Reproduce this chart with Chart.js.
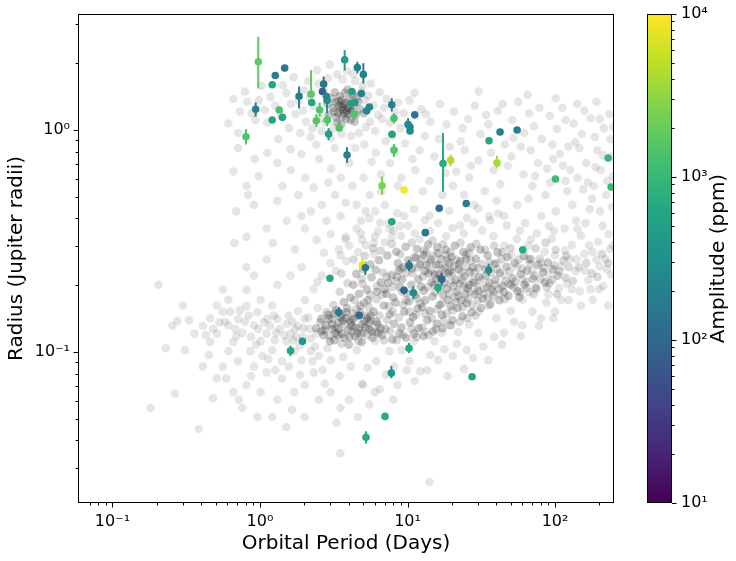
<!DOCTYPE html>
<html>
<head>
<meta charset="utf-8">
<script src="https://cdn.jsdelivr.net/npm/chart.js@4.4.0/dist/chart.umd.min.js"></script>
<style>
  html, body { margin: 0; padding: 0; background: #fff; }
  #wrap { position: relative; width: 736px; height: 561px; }
  canvas { position: absolute; left: 0; top: 0; }
</style>
</head>
<body>
<div id="wrap">
  <canvas id="plot" width="736" height="561"></canvas>
  <canvas id="cbar" width="736" height="561"></canvas>
</div>
<script>
// Planets with a measured amplitude (coloured points)
const planetPeriod = [0.974, 1.47, 1.27, 1.21, 0.935, 0.804, 1.35, 1.21, 1.42, 1.84,
  2.22, 2.24, 2.65, 2.70, 2.54, 2.41, 2.86, 2.85, 2.82, 2.92,
  3.45, 3.75, 4.57, 5.02, 4.20, 4.86, 4.16, 4.39, 4.36, 5.51,
  5.29, 3.89, 7.82, 8.10, 11.2, 10.08, 10.4, 10.4, 7.85, 8.10,
  6.72, 9.47, 17.4, 19.6, 16.4, 25.0, 13.2, 7.83, 35.7, 42.4,
  55.3, 40.4, 100.6, 229, 240, 60.4, 4.94, 5.18, 2.98, 10.24,
  17.06, 9.47, 10.95, 16.1, 35.5, 3.42, 4.71, 1.94, 1.61, 10.24,
  7.77, 27.4, 7.04, 5.23];
const planetRadius = [2.03, 1.90, 1.76, 1.60, 1.24, 0.933, 1.23, 1.11, 1.14, 1.42,
  1.45, 1.33, 1.49, 1.61, 1.23, 1.10, 1.11, 1.36, 1.42, 0.959,
  1.02, 2.07, 1.91, 1.78, 1.49, 1.46, 1.32, 1.33, 1.18, 1.27,
  1.22, 0.772, 1.30, 1.13, 1.17, 1.06, 1.03, 0.99, 0.957, 0.813,
  0.561, 0.537, 0.706, 0.731, 0.444, 0.467, 0.345, 0.386, 0.894, 0.979,
  1.00, 0.711, 0.602, 0.748, 0.554, 0.289, 0.2465, 0.2397, 0.2148, 0.245,
  0.213, 0.1897, 0.185, 0.195, 0.234, 0.151, 0.1463, 0.1117, 0.1014, 0.104,
  0.0804, 0.0774, 0.0513, 0.0413];
const planetAmp = [1800, 150, 180, 600, 180, 1500, 1300, 600, 600, 180,
  1800, 600, 80, 150, 1500, 1500, 1500, 280, 250, 500,
  1500, 450, 200, 200, 450, 200, 450, 450, 1500, 220,
  220, 200, 200, 1300, 150, 250, 250, 250, 550, 1500,
  2500, 9000, 700, 4500, 120, 180, 150, 600, 600, 200,
  200, 4000, 1100, 1000, 1000, 700, 8000, 150, 600, 150,
  100, 100, 250, 600, 300, 180, 110, 350, 600, 600,
  350, 600, 700, 700];
const radiusLow = [1.54, null, null, 1.56, 1.15, 0.86, null, null, null, 1.25,
  1.41, null, null, 1.51, 1.15, 1.03, 1.04, 1.19, null, 0.90,
  null, 1.85, 1.80, 1.62, null, null, null, null, null, null,
  null, 0.713, 1.21, 1.07, null, 1.00, null, null, null, 0.758,
  0.512, null, 0.527, 0.686, null, null, null, null, null, null,
  null, 0.677, null, null, null, null, 0.229, 0.222, null, 0.232,
  0.200, null, 0.173, 0.184, 0.221, 0.144, null, null, 0.096, 0.099,
  0.0762, null, null, 0.0387];
const radiusHigh = [2.63, null, null, 1.65, 1.33, 1.01, null, null, null, 1.57,
  1.86, null, null, 1.74, 1.33, 1.18, 1.18, 1.47, null, 1.02,
  null, 2.29, 2.03, 2.00, null, null, null, null, null, null,
  null, 0.836, 1.39, 1.19, null, 1.13, null, null, null, 0.865,
  0.617, null, 0.969, 0.776, null, null, null, null, null, null,
  null, 0.766, null, null, null, null, 0.265, 0.255, null, 0.260,
  0.227, null, 0.198, 0.204, 0.250, 0.159, null, null, 0.107, 0.110,
  0.0866, null, null, 0.0440];

// Background catalogue (grey points), [period, radius]
// crowded cores
const coreSubNeptune = [[9.2,0.213],[10.7,0.238],[12.3,0.197],[13.9,0.226],[15.6,0.248],[17.8,0.205],[19.4,0.231],[21.7,0.187],[24.3,0.219],[11.4,0.266],
  [8.6,0.251],[14.8,0.178],[16.9,0.262],[20.6,0.244],[23.1,0.171],[9.9,0.184],[12.9,0.274],[18.5,0.193],[22.8,0.256],[26.4,0.229],
  [7.8,0.222],[8.9,0.196],[10.2,0.169],[11.8,0.213],[13.4,0.247],[15.1,0.201],[16.3,0.224],[17.4,0.181],[19.9,0.268],[21.2,0.212],
  [25.5,0.194],[27.9,0.241],[30.6,0.218],[33.8,0.236],[29.1,0.263],[35.7,0.205],[38.9,0.249],[42.3,0.227],[46.8,0.242],[51.4,0.215],
  [7.2,0.183],[6.6,0.206],[6.1,0.234],[5.7,0.217],[5.3,0.191],[6.9,0.162],[7.6,0.148],[8.3,0.167],[9.5,0.152],[10.9,0.144],
  [12.6,0.159],[14.2,0.153],[16.5,0.163],[18.8,0.172],[21.9,0.158],[25.1,0.166],[28.7,0.182],[32.4,0.174],[37.2,0.191],[44.1,0.198],
  [5.9,0.152],[5.1,0.138],[4.6,0.145],[4.2,0.131],[3.8,0.142],[3.4,0.136],[3.1,0.127],[3.6,0.121],[4.4,0.118],[5.5,0.127],
  [6.3,0.133],[7.1,0.127],[8.1,0.134],[9.1,0.129],[10.4,0.136],[11.9,0.128],[13.6,0.139],[15.8,0.134],[2.8,0.132],[2.6,0.141],
  [3.3,0.154],[3.9,0.158],[4.8,0.162],[4.1,0.176],[3.7,0.168],[2.9,0.147],[2.4,0.128],[2.7,0.119],[3.2,0.113],[4.0,0.108],
  [4.9,0.111],[5.8,0.116],[6.7,0.119],[7.9,0.114],[8.8,0.121],[9.8,0.116],[11.1,0.121],[12.8,0.118],[14.9,0.124],[17.3,0.128],
  [20.1,0.139],[23.6,0.145],[27.2,0.151],[31.5,0.158],[36.4,0.164],[41.9,0.171],[48.3,0.179],[55.6,0.188],[62.1,0.201],[58.4,0.224],
  [53.2,0.251],[47.5,0.268],[40.8,0.281],[34.9,0.272],[31.2,0.289],[26.8,0.296],[23.9,0.283],[20.9,0.301],[18.2,0.289],[15.9,0.296],
  [13.8,0.305],[11.6,0.291],[9.7,0.298],[8.4,0.283],[7.3,0.272],[6.4,0.259],[5.6,0.248],[5.0,0.237],[4.5,0.225],[4.3,0.201],
  [4.7,0.183],[5.4,0.171],[6.2,0.187],[7.4,0.205],[8.7,0.232],[10.1,0.259],[12.1,0.248],[14.4,0.261],[16.1,0.279],[19.1,0.252],
  [22.3,0.236],[24.9,0.262],[28.1,0.205],[30.2,0.188],[34.1,0.221],[39.5,0.212],[45.2,0.186],[50.1,0.201],[57.3,0.176],[64.6,0.232],
  [70.8,0.214],[76.4,0.247],[68.2,0.262],[61.5,0.271],[82.9,0.229],[89.3,0.253],[96.7,0.236],[74.1,0.195],[85.6,0.206],[104.2,0.221],
  [11.3,0.181],[12.9,0.189],[14.6,0.207],[16.7,0.214],[18.9,0.226],[10.6,0.201],[9.4,0.241],[13.1,0.232],[15.3,0.224],[17.9,0.241],
  [20.4,0.198],[22.6,0.203],[8.0,0.176],[7.0,0.192],[19.6,0.161],[17.1,0.147],[13.2,0.171],[11.7,0.157],[24.6,0.182],[26.1,0.201]];
const lowerLobe = [[2.74,0.126],[3.08,0.133],[3.36,0.119],[3.63,0.138],[3.97,0.126],[4.29,0.141],[4.58,0.122],[4.92,0.133],[5.34,0.142],[5.74,0.124],
  [6.14,0.137],[6.56,0.128],[2.93,0.141],[3.19,0.149],[3.52,0.144],[3.86,0.151],[4.14,0.136],[4.43,0.129],[4.77,0.151],[5.16,0.129],
  [5.52,0.135],[2.62,0.124],[3.44,0.127],[3.73,0.116],[4.05,0.117],[4.85,0.121],[5.62,0.146],[6.35,0.122],[3.25,0.122],[2.98,0.112]];
const coreHotJupiter = [[3.52,1.24],[3.71,1.31],[3.38,1.19],[3.95,1.27],[4.18,1.21],[3.26,1.33],[3.63,1.15],[4.05,1.38],[3.47,1.42],[3.84,1.12],
  [4.31,1.29],[3.12,1.26],[3.58,1.36],[3.89,1.22],[4.47,1.17],[3.33,1.08],[3.76,1.47],[4.12,1.11],[3.05,1.39],[4.62,1.34],
  [3.44,1.29],[3.67,1.23],[3.99,1.18],[4.25,1.44],[2.92,1.17],[3.21,1.48],[4.78,1.24],[3.55,1.06],[3.81,1.33],[4.38,1.09],
  [3.18,1.21],[3.61,1.27],[2.86,1.31],[4.09,1.25],[3.41,1.35],[3.73,1.19],[4.55,1.41],[3.29,1.14],[3.92,1.52],[5.06,1.19]];
// medium density ring
const subNeptuneMid = [[3.14,0.163],[3.47,0.187],[3.92,0.204],[4.37,0.171],[4.88,0.214],[5.46,0.159],[6.18,0.173],[6.83,0.228],[7.47,0.161],[8.29,0.209],
  [9.03,0.238],[9.76,0.171],[10.8,0.227],[11.6,0.174],[12.4,0.262],[13.7,0.196],[14.5,0.233],[15.4,0.186],[16.2,0.247],[17.6,0.222],
  [18.1,0.274],[19.8,0.209],[20.9,0.176],[22.4,0.249],[23.4,0.212],[24.8,0.274],[26.6,0.187],[28.4,0.228],[29.6,0.197],[31.8,0.249],
  [33.1,0.193],[36.1,0.254],[37.9,0.178],[40.6,0.236],[43.4,0.262],[46.1,0.209],[49.2,0.231],[52.6,0.196],[56.7,0.261],[59.9,0.238],
  [63.8,0.207],[67.9,0.249],[72.6,0.221],[78.9,0.263],[84.2,0.239],[91.7,0.204],[99.1,0.246],[107,0.231],[114,0.258],[124,0.241],
  [3.29,0.129],[3.75,0.133],[4.24,0.149],[4.71,0.128],[5.23,0.146],[5.67,0.139],[6.46,0.146],[7.28,0.139],[7.94,0.152],[8.71,0.143],
  [9.36,0.163],[10.3,0.152],[11.4,0.147],[12.2,0.166],[13.1,0.149],[14.6,0.142],[15.9,0.156],[17.2,0.166],[18.4,0.149],[20.2,0.154],
  [21.3,0.168],[23.7,0.159],[25.8,0.173],[27.6,0.162],[29.9,0.171],[32.9,0.183],[35.1,0.176],[38.3,0.186],[41.7,0.193],[45.6,0.173],
  [2.96,0.118],[3.57,0.109],[4.16,0.124],[4.64,0.112],[5.36,0.119],[6.07,0.123],[6.94,0.113],[7.61,0.124],[8.45,0.113],[9.32,0.119],
  [10.6,0.127],[11.5,0.117],[12.6,0.129],[13.9,0.119],[15.6,0.127],[17.6,0.138],[19.7,0.132],[22.6,0.137],[25.4,0.142],[28.9,0.146],
  [2.57,0.136],[2.83,0.151],[3.09,0.141],[3.61,0.148],[4.07,0.139],[4.49,0.156],[5.07,0.167],[5.58,0.181],[6.21,0.198],[6.74,0.181],
  [7.23,0.218],[7.92,0.196],[8.48,0.218],[9.18,0.187],[9.83,0.227],[10.4,0.249],[11.1,0.268],[11.8,0.241],[12.7,0.219],[13.4,0.281],
  [14.1,0.253],[14.9,0.271],[15.7,0.213],[16.5,0.195],[17.1,0.236],[18.7,0.261],[19.2,0.183],[20.1,0.227],[21.5,0.261],[22.1,0.179],
  [23.2,0.229],[24.1,0.197],[25.2,0.241],[26.9,0.258],[27.8,0.211],[30.1,0.239],[31.4,0.211],[34.6,0.196],[36.8,0.228],[39.1,0.201],
  [6.58,0.286],[7.81,0.307],[8.93,0.276],[10.7,0.311],[12.9,0.287],[14.8,0.318],[17.4,0.306],[19.6,0.281],[22.9,0.311],[26.1,0.279],
  [29.3,0.307],[33.6,0.289],[38.7,0.301],[43.9,0.282],[49.8,0.293],[4.31,0.261],[5.12,0.271],[5.84,0.293],[4.96,0.203],[3.56,0.226],
  [53.8,0.207],[58.1,0.186],[64.3,0.194],[71.4,0.182],[79.6,0.213],[87.9,0.196],[95.8,0.211],[103,0.182],[118,0.216],[132,0.209],
  [145,0.241],[163,0.252],[178,0.226],[194,0.218],[208,0.276],[229,0.251],[119,0.271],[101,0.289],[86.3,0.311],[73.7,0.293]];
// sparse surroundings
const haloHotJupiter = [[2.34,1.28],[2.58,1.13],[2.17,1.41],[1.96,1.22],[1.83,1.36],[2.71,1.52],[2.49,1.62],[2.05,1.09],[1.74,1.18],[1.62,1.31],
  [1.51,1.47],[1.39,1.16],[1.27,1.29],[1.18,1.41],[1.08,1.23],[0.98,1.36],[0.88,1.19],[2.88,1.71],[3.34,1.78],[3.87,1.84],
  [4.41,1.66],[4.96,1.58],[5.43,1.43],[5.87,1.29],[6.31,1.17],[6.94,1.26],[7.58,1.08],[8.23,1.21],[8.97,1.02],[5.21,1.03],
  [4.69,0.97],[4.14,0.94],[3.57,0.96],[3.02,0.92],[2.61,0.99],[2.21,0.93],[1.88,0.97],[1.57,1.02],[2.12,1.66],[2.43,1.86],
  [2.97,1.97],[3.63,1.69],[4.28,1.79],[5.64,1.62],[6.48,1.48],[7.22,1.38],[1.43,1.59],[1.69,1.73],[6.03,0.99],[7.86,0.94],
  [2.76,1.08],[3.15,1.02],[5.12,1.37],[5.58,1.09],[4.86,1.49],[2.26,1.02],[1.98,1.51],[6.71,1.12],[8.62,1.33],[9.41,1.19],
  [1.33,0.91],[1.12,1.08],[0.93,1.11],[0.82,1.34],[0.73,1.21],[0.66,1.38],[0.61,1.07],[0.71,0.97],[0.79,1.49],[1.02,1.58]];
const warmGiants = [[10.3,1.36],[12.4,1.24],[11.2,1.47],[14.3,1.09],[16.6,1.31],[13.1,0.94],[18.4,1.06],[20.7,1.21],[22.9,0.89],[25.8,1.12],
  [28.6,1.29],[31.2,0.96],[35.4,1.06],[40.9,1.22],[45.6,0.86],[51.3,1.11],[56.2,1.34],[61.7,0.97],[66.8,1.19],[71.9,1.04],
  [81.4,0.91],[92.3,1.16],[103,1.01],[112,1.26],[123,0.84],[134,1.07],[152,0.96],[174,1.13],[193,0.81],[214,1.02],
  [233,1.18],[244,0.76],[204,0.66],[163,0.71],[142,0.61],[113,0.69],[97.1,0.74],[76.6,0.71],[61.2,0.63],[50.6,0.76],
  [38.4,0.66],[30.3,0.73],[24.4,0.81],[19.3,0.84],[15.2,0.76],[12.1,0.81],[9.6,0.87],[11.3,0.66],[14.1,0.59],[20.3,0.56],
  [26.2,0.61],[33.4,0.53],[42.6,0.57],[70.4,0.56],[86.1,0.51],[121,0.53],[183,0.56],[222,0.51],[247,0.62],[131,0.46],
  [101,0.43],[202,0.43],[161,0.38],[231,0.34],[80.6,0.41],[55.4,0.46],[45.1,0.41],[28.2,0.46],[17.2,0.51],[9.1,0.61],
  [7.6,0.71],[8.6,0.56],[6.6,0.63],[6.1,0.79],[5.1,0.86],[7.1,0.89],[101,1.39],[141,1.31],[65.3,1.44],[30.4,1.49],[191,1.34],
  [36.8,0.79],[47.9,0.69],[58.7,0.84],[73.2,0.62],[88.4,0.67],[108,0.78],[127,0.66],[146,0.83],[167,0.58],[188,0.68],
  [211,0.77],[238,0.91],[226,0.59],[178,0.49],[155,0.54],[118,0.59],[92.8,0.58],[66.1,0.49],[40.2,0.48],[21.4,0.65],
  [16.3,0.91],[13.3,1.18],[23.6,1.02],[34.1,1.17],[44.3,1.31],[78.2,1.26],[118,1.11],[158,1.22],[201,1.12],[248,1.03],
  [186,0.93],[137,0.88],[96.1,0.86],[68.4,0.81],[52.2,0.92],[26.9,0.69],[18.1,0.64],[10.8,0.74],[8.2,0.79],[12.7,0.53],
  [210,0.37],[172,0.44],[139,0.39],[116,0.36],[91.1,0.37],[243,0.45],[62.8,0.38],[35.8,0.41],[24.2,0.51]];
const gapPts = [[0.71,0.83],[0.92,0.74],[1.12,0.79],[1.31,0.71],[1.62,0.66],[2.03,0.61],[2.52,0.74],[3.04,0.67],[3.53,0.61],[4.23,0.56],
  [5.04,0.61],[4.52,0.46],[3.81,0.47],[3.23,0.51],[2.63,0.46],[2.21,0.43],[1.82,0.51],[1.52,0.39],[1.11,0.36],[0.91,0.46],
  [0.81,0.56],[0.69,0.43],[1.42,0.56],[2.83,0.39],[3.52,0.41],[4.83,0.39],[5.53,0.51],[6.04,0.43],[7.02,0.46],[2.02,0.36],
  [1.22,0.31],[0.81,0.33],[1.72,0.29],[2.42,0.32],[3.02,0.34],[3.83,0.33],[4.53,0.36],[1.61,0.82],[0.66,0.65],[0.67,0.31],
  [0.83,0.51],[2.31,0.55],[2.91,0.58],[4.02,0.71],[5.71,0.72],[6.62,0.53],[7.41,0.38],[5.21,0.43],[6.32,0.35],[7.83,0.33],
  [8.91,0.37],[9.52,0.41],[5.92,0.31],[4.91,0.32],[3.43,0.29],[2.71,0.28],[1.91,0.41],[1.31,0.48],[0.98,0.62],[4.42,0.83],
  [3.21,0.83],[2.41,0.86],[1.91,0.78]];
const subNeptuneHalo = [[2.31,0.192],[2.02,0.171],[1.81,0.153],[1.52,0.134],[1.29,0.122],[1.12,0.141],[2.62,0.221],[3.01,0.251],[3.52,0.272],[4.03,0.301],
  [4.62,0.282],[5.21,0.303],[6.02,0.331],[7.03,0.312],[8.04,0.352],[9.05,0.334],[10.1,0.371],[11.2,0.342],[12.1,0.322],[14.2,0.351],
  [16.1,0.381],[18.3,0.332],[20.2,0.362],[24.1,0.343],[28.3,0.382],[32.1,0.353],[38.2,0.332],[6.52,0.382],[5.51,0.401],[8.52,0.422],
  [11.1,0.441],[14.1,0.412],[19.2,0.432],[25.3,0.402],[30.1,0.443],[40.3,0.252],[45.2,0.222],[50.4,0.273],[55.1,0.242],[60.2,0.213],
  [65.3,0.262],[70.1,0.233],[80.2,0.252],[90.3,0.223],[100,0.272],[110,0.243],[120,0.203],[140,0.262],[160,0.232],[180,0.283],
  [200,0.243],[220,0.262],[240,0.223],[45.3,0.302],[55.2,0.323],[65.4,0.302],[75.3,0.343],[85.1,0.283],[95.2,0.323],[130,0.303],
  [150,0.334],[170,0.302],[42.1,0.182],[48.2,0.203],[60.3,0.172],[75.2,0.192],[90.1,0.182],[110,0.172],[130,0.192],[150,0.162],
  [70.3,0.152],[50.2,0.153],[40.1,0.142],[35.2,0.162],[30.3,0.152],[26.2,0.133],[22.1,0.123],[19.3,0.132],[17.1,0.122],[15.2,0.112],
  [13.3,0.123],[11.1,0.112],[9.12,0.102],[7.53,0.101],[6.04,0.112],[5.02,0.122],[4.53,0.102],[12.2,0.082],[16.1,0.092],[20.3,0.096],
  [25.2,0.102],[10.3,0.091],[8.12,0.086],[6.13,0.091],[4.12,0.086],[3.03,0.092],[2.51,0.096],[30.2,0.122],[45.1,0.122],[60.1,0.132],
  [80.3,0.142],[100,0.152],[180,0.172],[200,0.192],[230,0.162],[247,0.302],[117,0.287],[138,0.231],[158,0.276],[196,0.314],
  [236,0.291],[212,0.198],[168,0.211],[126,0.262],[106,0.194],[87.4,0.167],[67.3,0.186],[52.7,0.137],[38.6,0.117],[32.7,0.106],
  [27.8,0.094],[21.6,0.109],[17.8,0.103],[14.3,0.097],[9.87,0.083],[7.12,0.079],[5.37,0.085],[3.67,0.095],[2.87,0.104],[2.21,0.115],
  [1.73,0.127],[2.13,0.143],[2.46,0.158],[1.97,0.128],[1.68,0.113],[57.8,0.352],[47.1,0.372],[36.4,0.392],[22.7,0.372],[13.1,0.392],
  [7.61,0.357],[4.83,0.342],[3.79,0.322],[3.26,0.232],[3.84,0.257],[5.91,0.276],[2.45,0.207],[68.7,0.321],[98.3,0.351],[142,0.358],
  [191,0.261],[225,0.236],[174,0.192],[147,0.188],[123,0.171],[97.1,0.142],[77.8,0.131],[58.6,0.118],[43.7,0.108],[13.6,0.083],
  [11.2,0.074],[8.56,0.071],[6.48,0.068],[18.7,0.078],[24.1,0.084],[35.3,0.092],[4.91,0.072],[3.47,0.078],[2.66,0.083],[41.2,0.421]];
const shortPeriodTail = [[0.41,0.131],[0.46,0.142],[0.51,0.121],[0.56,0.152],[0.61,0.132],[0.66,0.111],[0.71,0.141],[0.76,0.122],[0.81,0.161],[0.86,0.101],
  [0.91,0.132],[0.96,0.151],[1.01,0.112],[1.11,0.121],[1.21,0.102],[1.31,0.141],[1.41,0.091],[1.51,0.112],[1.61,0.121],[1.71,0.101],
  [1.81,0.131],[1.91,0.092],[2.01,0.141],[2.21,0.101],[2.41,0.121],[0.51,0.162],[0.61,0.172],[0.81,0.191],[1.01,0.172],[1.21,0.162],
  [0.71,0.091],[0.91,0.086],[1.11,0.081],[1.41,0.076],[0.61,0.101],[0.56,0.086],[0.46,0.111],[0.36,0.121],[0.31,0.102],[0.275,0.138],
  [0.255,0.131],[0.205,0.201],[0.41,0.086],[0.51,0.076],[0.81,0.071],[1.01,0.066],[1.31,0.061],[1.71,0.066],[2.01,0.071],[2.31,0.081],
  [0.76,0.056],[0.96,0.051],[0.66,0.066],[1.21,0.051],[0.385,0.045],[0.265,0.065],[0.181,0.056],[1.51,0.046],[2.01,0.051],[2.51,0.061],
  [3.01,0.066],[3.51,0.056],[4.01,0.061],[5.01,0.071],[6.01,0.066],[8.01,0.061],[3.51,0.035],[14.1,0.026],[1.61,0.221],[1.31,0.201],
  [1.91,0.241],[0.81,0.241],[0.91,0.221],[0.56,0.191],[1.11,0.261],[0.58,0.137],[0.68,0.127],[0.73,0.154],[0.87,0.117],[0.97,0.127],
  [1.06,0.136],[1.17,0.131],[1.26,0.113],[1.36,0.127],[1.46,0.119],[1.56,0.146],[1.66,0.137],[1.76,0.117],[1.86,0.107],[1.96,0.117],
  [2.16,0.127],[2.36,0.106],[0.63,0.152],[0.69,0.118],[0.79,0.137],[0.84,0.146],[0.94,0.108],[1.04,0.096],[1.14,0.093],[1.24,0.146],
  [0.48,0.127],[0.53,0.136],[0.43,0.119],[0.33,0.139],[0.87,0.078],[1.27,0.083],[1.57,0.086],[1.87,0.079],[2.27,0.091],[0.45,0.097],
  [0.48,0.062],[0.59,0.076],[0.72,0.061],[1.65,0.055],[2.75,0.072],[3.3,0.048],[4.6,0.051],[5.5,0.058],[0.23,0.104],[0.3,0.162]];

const densePts = [].concat(coreSubNeptune, lowerLobe, coreHotJupiter);
const midPts = subNeptuneMid;
const sparsePts = [].concat(haloHotJupiter, warmGiants, gapPts, subNeptuneHalo, shortPeriodTail);

// viridis, 11 stops
const viridisStops = ['#440154', '#482475', '#414487', '#355f8d', '#2a788e', '#21918c',
  '#22a884', '#44bf70', '#7ad151', '#bddf26', '#fde725'];
const ampMin = 10, ampMax = 10000;

function hexRgb(h) {
  return [parseInt(h.slice(1, 3), 16), parseInt(h.slice(3, 5), 16), parseInt(h.slice(5, 7), 16)];
}
function viridis(t) {
  t = Math.max(0, Math.min(1, t));
  const f = t * (viridisStops.length - 1);
  const i = Math.min(Math.floor(f), viridisStops.length - 2);
  const a = hexRgb(viridisStops[i]), b = hexRgb(viridisStops[i + 1]);
  const k = f - i;
  return 'rgb(' + a.map((v, j) => Math.round(v + (b[j] - v) * k)).join(',') + ')';
}
function ampColor(a) {
  return viridis((Math.log10(a) - Math.log10(ampMin)) / (Math.log10(ampMax) - Math.log10(ampMin)));
}
const planetColors = planetAmp.map(ampColor);

const sup = { '-': '\u207b', '0': '\u2070', '1': '\u00b9', '2': '\u00b2', '3': '\u00b3', '4': '\u2074' };
function powLabel(value) {
  const e = Math.log10(value);
  if (Math.abs(e - Math.round(e)) > 1e-9) return '';
  return '10' + String(Math.round(e)).split('').map(c => sup[c]).join('');
}

Chart.defaults.font.family = "'DejaVu Sans', sans-serif";
Chart.defaults.color = '#000';

// frame + matplotlib style major/minor tick marks
const frameTicks = {
  id: 'frameTicks',
  afterDraw(chart) {
    const ctx = chart.ctx, area = chart.chartArea;
    ctx.save();
    ctx.strokeStyle = '#000';
    ctx.lineWidth = 1;
    ctx.strokeRect(Math.round(area.left) + 0.5, Math.round(area.top) + 0.5,
      Math.round(area.right - area.left) - 1, Math.round(area.bottom - area.top) - 1);
    Object.values(chart.scales).forEach(scale => {
      if (!scale.options.display || scale.type !== 'logarithmic') return;
      scale.ticks.forEach(t => {
        const exp = Math.floor(Math.log10(t.value) + 1e-9);
        const sig = t.value / Math.pow(10, exp);
        if (Math.abs(sig - Math.round(sig)) > 1e-6) return;
        const len = Math.round(sig) === 1 ? 4.5 : 2.5;
        const p = Math.round(scale.getPixelForValue(t.value)) + 0.5;
        ctx.beginPath();
        if (scale.position === 'bottom') {
          ctx.moveTo(p, area.bottom); ctx.lineTo(p, area.bottom + len);
        } else if (scale.position === 'left') {
          ctx.moveTo(area.left, p); ctx.lineTo(area.left - len, p);
        } else {
          ctx.moveTo(area.right, p); ctx.lineTo(area.right + len, p);
        }
        ctx.stroke();
      });
    });
    ctx.restore();
  }
};

const errorBars = {
  id: 'errorBars',
  beforeDatasetDraw(chart, args) {
    if (args.index !== 0) return;
    const ctx = chart.ctx, xs = chart.scales.x, ys = chart.scales.y;
    ctx.save();
    ctx.lineWidth = 2;
    planetPeriod.forEach((p, i) => {
      if (radiusLow[i] == null) return;
      const px = xs.getPixelForValue(p);
      ctx.strokeStyle = planetColors[i];
      ctx.beginPath();
      ctx.moveTo(px, ys.getPixelForValue(radiusLow[i]));
      ctx.lineTo(px, ys.getPixelForValue(radiusHigh[i]));
      ctx.stroke();
    });
    ctx.restore();
  }
};

const toXY = d => ({ x: d[0], y: d[1] });
const greyDataset = (pts, alpha) => ({
  data: pts.map(toXY),
  backgroundColor: 'rgba(0,0,0,' + alpha + ')',
  borderWidth: 0,
  pointRadius: 4.3
});

new Chart(document.getElementById('plot'), {
  type: 'scatter',
  data: {
    datasets: [{
      data: planetPeriod.map((p, i) => ({ x: p, y: planetRadius[i] })),
      backgroundColor: planetColors,
      borderWidth: 0,
      pointRadius: 3.8
    },
    greyDataset(densePts, 0.22),
    greyDataset(midPts, 0.15),
    greyDataset(sparsePts, 0.1)]
  },
  options: {
    responsive: false,
    animation: false,
    layout: { padding: { left: 0, top: 14, right: 122, bottom: 0 } },
    plugins: { legend: { display: false }, tooltip: { enabled: false } },
    scales: {
      x: {
        type: 'logarithmic', min: 0.0584, max: 251,
        grid: { display: false, drawTicks: false }, border: { display: false },
        ticks: { autoSkip: false, maxRotation: 0, padding: 9, font: { size: 16 }, callback: powLabel },
        title: { display: true, text: 'Orbital Period (Days)', font: { size: 20 }, padding: { top: 0, bottom: 5 } },
        afterFit: s => { s.height = 58; s.paddingLeft = 0; s.paddingRight = 0; }
      },
      y: {
        type: 'logarithmic', min: 0.0209, max: 3.33,
        grid: { display: false, drawTicks: false }, border: { display: false },
        ticks: { autoSkip: false, padding: 8, font: { size: 16 }, callback: powLabel },
        title: { display: true, text: 'Radius (Jupiter radii)', font: { size: 20 }, padding: { top: 5, bottom: 0 } },
        afterFit: s => { s.width = 78; s.paddingTop = 0; s.paddingBottom = 0; }
      }
    }
  },
  plugins: [errorBars, frameTicks]
});

const colorbarFill = {
  id: 'colorbarFill',
  beforeDraw(chart) {
    const ctx = chart.ctx, a = chart.chartArea;
    const g = ctx.createLinearGradient(0, a.bottom, 0, a.top);
    viridisStops.forEach((c, i) => g.addColorStop(i / (viridisStops.length - 1), c));
    ctx.save();
    ctx.fillStyle = g;
    ctx.fillRect(a.left, a.top, a.right - a.left, a.bottom - a.top);
    ctx.translate(719, (a.top + a.bottom) / 2);
    ctx.rotate(-Math.PI / 2);
    ctx.fillStyle = '#000';
    ctx.font = "20px 'DejaVu Sans', sans-serif";
    ctx.textAlign = 'center';
    ctx.textBaseline = 'middle';
    ctx.fillText('Amplitude (ppm)', 0, 0);
    ctx.restore();
  }
};

new Chart(document.getElementById('cbar'), {
  type: 'scatter',
  data: { datasets: [] },
  options: {
    responsive: false,
    animation: false,
    layout: { padding: { left: 647, top: 14, right: 0, bottom: 58 } },
    plugins: { legend: { display: false }, tooltip: { enabled: false } },
    scales: {
      x: { type: 'linear', display: false, min: 0, max: 1 },
      y: {
        type: 'logarithmic', position: 'right', min: ampMin, max: ampMax,
        grid: { display: false, drawTicks: false }, border: { display: false },
        ticks: { autoSkip: false, padding: 9, font: { size: 16 }, callback: powLabel },
        afterFit: s => { s.width = 64; s.paddingTop = 0; s.paddingBottom = 0; }
      }
    }
  },
  plugins: [colorbarFill, frameTicks]
});
</script>
</body>
</html>
